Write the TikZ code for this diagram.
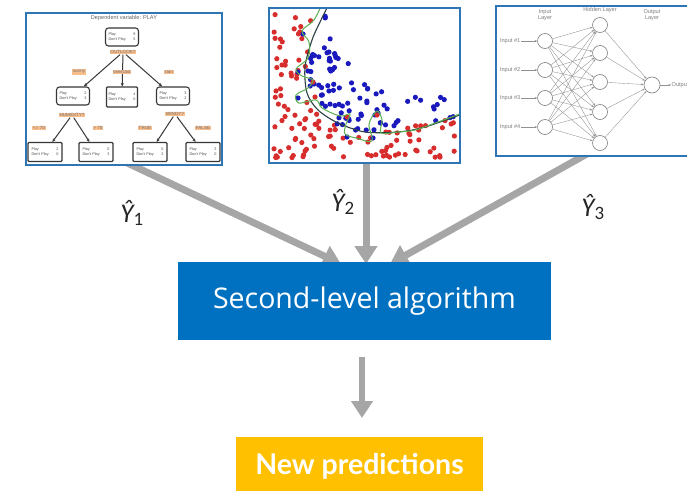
\documentclass[tikz,border=0pt]{standalone}
\usepackage{fontspec}
\setmainfont{Open Sans}
\newfontfamily\latofont{Lato}
\newfontfamily\carlito{Carlito}
\newfontfamily\nnfont{Liberation Sans}
\usetikzlibrary{arrows.meta}
\definecolor{framecol}{RGB}{46,117,182}
\definecolor{algoblue}{RGB}{0,112,192}
\definecolor{predyellow}{RGB}{255,192,0}
\definecolor{arrowgray}{RGB}{166,166,166}
\definecolor{dotred}{RGB}{215,45,45}
\definecolor{dotblue}{RGB}{25,25,190}
\definecolor{curvedark}{RGB}{45,65,70}
\definecolor{curvegreen}{RGB}{90,175,80}
\definecolor{tagorange}{RGB}{248,190,140}
\definecolor{treeline}{RGB}{55,55,55}
\definecolor{nngray}{RGB}{125,125,125}
\tikzset{
  panel/.style={draw=framecol, line width=1.5pt, fill=white},
  bigarrow/.style={draw=arrowgray, line width=7pt, -{Triangle[length=18pt,width=22pt]}},
  yhat/.style={font=\carlito\itshape\fontsize{27}{32}\selectfont, text=black!85},
  treebox/.style={draw=treeline, line width=1.1pt, rounded corners=3pt, fill=white,
     minimum width=33pt, minimum height=18pt, inner sep=0.5pt, align=center,
     font=\nnfont\fontsize{3.8}{5}\selectfont, text=black!70},
  leafbox/.style={treebox, rounded corners=1pt, minimum width=34pt, minimum height=19pt},
  tag/.style={fill=tagorange, inner sep=0.8pt, font=\nnfont\fontsize{4.6}{5}\selectfont, text=black!55},
  treeedge/.style={draw=treeline, line width=1pt, -{Stealth[length=3.5pt,width=3pt]}},
  neuron/.style={circle, draw=nngray, fill=white, minimum size=15pt, inner sep=0pt, line width=0.6pt},
  nnedge/.style={draw=nngray!85, line width=0.35pt, -{Stealth[length=2.5pt,width=2pt]}},
  nnlabel/.style={font=\nnfont\fontsize{5.6}{6.2}\selectfont, text=nngray, align=center, inner sep=0.5pt},
  reddot/.style={fill=dotred},
  bluedot/.style={fill=dotblue}
}
\newcommand{\pl}[2]{\makebox[27pt]{Play\hfill #1}\\\makebox[27pt]{Don't Play\hfill #2}}
\begin{document}
\begin{tikzpicture}[x=1pt,y=-1pt]
\useasboundingbox (0,0) rectangle (687,490);
% ---------- big arrows (behind panels)
\coordinate (s1) at (121,160);
\coordinate (t1) at (341,264);
\coordinate (s2) at (366,160);
\coordinate (t2) at (366,264);
\coordinate (s3) at (594,150);
\coordinate (t3) at (390,264);
\draw[bigarrow] (s1) -- (t1);
\draw[bigarrow] (s2) -- (t2);
\draw[bigarrow] (s3) -- (t3);

% ---------- panel 1: decision tree
\node[panel, minimum width=196pt, minimum height=152pt, inner sep=0pt] (p1) at (124,89) {};
\node[nnlabel, text=black!60, font=\nnfont\fontsize{5.6}{6}\selectfont] (ttl) at (124,18) {Dependent variable: PLAY};
\node[treebox] (root) at (122,37) {\pl{9}{5}};
\node[treebox] (cL) at (73,96) {\pl{2}{3}};
\node[treebox, rounded corners=1pt, minimum width=31pt, minimum height=20pt] (cM) at (122,97) {\pl{4}{0}};
\node[treebox] (cR) at (173,96) {\pl{3}{2}};
\node[leafbox] (l1) at (45,152) {\pl{2}{0}};
\node[leafbox] (l2) at (96,152) {\pl{0}{3}};
\node[leafbox] (l3) at (150,152) {\pl{0}{2}};
\node[leafbox] (l4) at (203,152) {\pl{3}{0}};
\node[tag] (t0) at (123,52) {OUTLOOK?};
\node[tag] (tH) at (72,115) {HUMIDITY?};
\node[tag] (tW) at (175,114) {WINDY?};
\draw[treeedge] (t0) -- (cL);
\draw[treeedge] (t0) -- (cM);
\draw[treeedge] (t0) -- (cR);
\draw[treeedge] (tH) -- (l1);
\draw[treeedge] (tH) -- (l2);
\draw[treeedge] (tW) -- (l3);
\draw[treeedge] (tW) -- (l4);
\node[tag] (e1) at (79,72) {sunny};
\node[tag] (e2) at (122,72) {overcast};
\node[tag] (e3) at (169,72) {rain};
\node[tag] (e4) at (39,128) {<= 70};
\node[tag] (e5) at (98,128) {> 70};
\node[tag] (e6) at (145,128) {TRUE};
\node[tag] (e7) at (203,128) {FALSE};

% ---------- panel 2: scatter
\node[panel, minimum width=191pt, minimum height=155pt, inner sep=0pt] (p2) at (364.5,85.5) {};
\begin{scope}
\clip (270,9) rectangle (459,162);
\pgfmathsetseed{11}
\foreach \i in {1,...,280}{
  \pgfmathsetmacro\pu{5+rnd*182}
  \pgfmathsetmacro\pv{5+rnd*144}
  \pgfmathsetmacro\ps{(\pu-25)/10*(\pv-22)/10}
  \pgfmathtruncatemacro\pc{(\pu<36 || \pv<28 || \pv<30+0.17*max(\pu-100,0) || \ps<6.5 || (\pv>80 && \pu<36+0.2*(\pv-80))) ? 1 : ((\ps<42 || (\pv<72 && \ps<64)) ? 2 : 0)}
  \ifcase\pc\relax
  \or \fill[reddot] (269+\pu,163-\pv) circle (2.6);
  \or \fill[bluedot] (269+\pu,163-\pv) circle (2.6);
  \fi
}
\pgfmathsetseed{5}
\foreach \i in {1,...,80}{
  \pgfmathsetmacro\pu{30+rnd*158}
  \pgfmathsetmacro\pv{28+rnd*124}
  \pgfmathsetmacro\ps{(\pu-25)/10*(\pv-22)/10}
  \pgfmathtruncatemacro\pc{(\pu<36 || \pv<28 || \pv<30+0.17*max(\pu-100,0) || \ps<6.5 || (\pv>80 && \pu<36+0.2*(\pv-80))) ? 0 : ((\ps<30) ? 2 : 0)}
  \ifcase\pc\relax
  \or
  \or \fill[bluedot] (269+\pu,163-\pv) circle (2.6);
  \fi
}
\foreach \p in {(298,98),(298,72),(347,137),(373,138),(303,34)}
  \fill[bluedot] \p circle (2.6);
\foreach \p in {(315,97),(347,117),(377,115),(313,82)}
  \fill[reddot] \p circle (2.6);
\draw[curvedark, line width=1.1pt] plot[smooth] coordinates {(331,0) (321,20) (312,40) (305,67) (307,93) (318,110) (338,123) (365,132) (398,132) (425,127) (465,113)};
\draw[curvegreen, line width=1pt] plot[smooth, tension=0.55] coordinates {(323,2) (314,20) (302,31) (309,42) (308,58) (296,69) (302,76) (313,80) (308,88) (296,95) (299,103) (316,100) (322,108) (340,116) (350,114) (346,124) (345,134) (356,138) (372,141) (369,124) (377,111) (382,120) (381,133) (398,132) (415,130) (438,122) (465,112)};
\end{scope}

% ---------- panel 3: neural network
\node[panel, minimum width=210pt, minimum height=150pt, inner sep=0pt, anchor=north west] (p3) at (495,5) {};
\node[nnlabel] (lin) at (545,15) {Input\\Layer};
\node[nnlabel] (lhid) at (600,10) {Hidden Layer};
\node[nnlabel] (lout) at (652,15) {Output\\Layer};
\foreach \k/\yy in {1/41,2/70,3/98,4/127}{
  \node[neuron] (i\k) at (545,\yy) {};
  \node[nnlabel, anchor=east] (in\k) at (521,\yy) {Input \#\k};
  \draw[nnedge] (in\k) -- (i\k);
}
\foreach \k/\yy in {1/25,2/53,3/82,4/112,5/143}{
  \node[neuron] (h\k) at (600,\yy) {};
}
\node[neuron, minimum size=16pt] (o) at (652,85) {};
\node[nnlabel, anchor=west] (outl) at (671,85) {Output};
\foreach \a in {1,...,4}{
  \foreach \b in {1,...,5}{
    \draw[nnedge] (i\a) -- (h\b);
  }
}
\foreach \b in {1,...,5}{
  \draw[nnedge] (h\b) -- (o);
}
\draw[nnedge] (o) -- (outl);

% ---------- labels
\node[yhat] (y1) at (132,213) {Ŷ\textsubscript{\upshape 1}};
\node[yhat] (y2) at (343,202) {Ŷ\textsubscript{\upshape 2}};
\node[yhat] (y3) at (593,207) {Ŷ\textsubscript{\upshape 3}};

% ---------- second level
\node[fill=algoblue, minimum width=373pt, minimum height=78pt, inner sep=0pt,
  text=white, font=\fontsize{28.5}{33}\selectfont] (algo) at (364.5,301) {Second-level algorithm};
\coordinate (d1) at (362,357);
\coordinate (d2) at (362,418);
\draw[bigarrow, line width=6pt, -{Triangle[length=17pt,width=21pt]}] (d1) -- (d2);
\node[fill=predyellow, minimum width=247pt, minimum height=58pt, inner sep=0pt,
  text=white, font=\latofont\bfseries\fontsize{28.5}{33}\selectfont] (pred) at (359.5,466) {New predictions};
\end{tikzpicture}
\end{document}
